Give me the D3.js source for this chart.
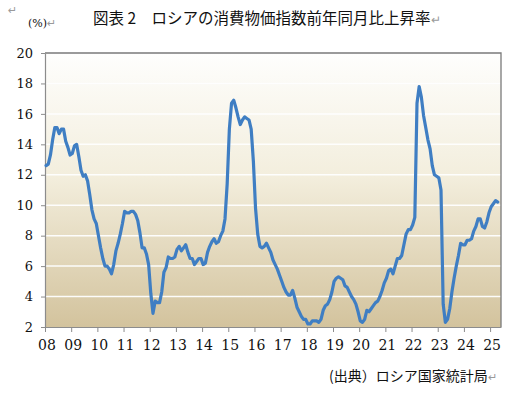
<!DOCTYPE html>
<html>
<head>
<meta charset="utf-8">
<script src="https://cdn.jsdelivr.net/npm/d3@7/dist/d3.min.js"></script>
<style>
  html, body { margin: 0; padding: 0; background: #ffffff; }
  svg { display: block; }
</style>
</head>
<body>
<svg id="chart" width="515" height="401"></svg>
<script>
// ---- data (Russia CPI, year-on-year %, monthly from Jan 2008) ----
const cpi2008 = [12.6, 12.7, 13.3, 14.3, 15.1, 15.1, 14.7, 15.0, 15.0, 14.2, 13.8, 13.3];
const cpi2009 = [13.4, 13.9, 14.0, 13.2, 12.3, 11.9, 12.0, 11.6, 10.7, 9.7, 9.1, 8.8];
const cpi2010 = [8.0, 7.2, 6.5, 6.0, 6.0, 5.8, 5.5, 6.1, 7.0, 7.5, 8.1, 8.8];
const cpi2011 = [9.6, 9.5, 9.5, 9.6, 9.6, 9.4, 9.0, 8.2, 7.2, 7.2, 6.8, 6.1];
const cpi2012 = [4.2, 2.9, 3.7, 3.6, 3.6, 4.3, 5.6, 5.9, 6.6, 6.5, 6.5, 6.6];
const cpi2013 = [7.1, 7.3, 7.0, 7.2, 7.4, 6.9, 6.5, 6.5, 6.1, 6.3, 6.5, 6.5];
const cpi2014 = [6.1, 6.2, 6.9, 7.3, 7.6, 7.8, 7.5, 7.6, 8.0, 8.3, 9.1, 11.4];
const cpi2015 = [15.0, 16.7, 16.9, 16.4, 15.8, 15.3, 15.6, 15.8, 15.7, 15.6, 15.0, 12.9];
const cpi2016 = [9.8, 8.1, 7.3, 7.2, 7.3, 7.5, 7.2, 6.9, 6.4, 6.1, 5.8, 5.4];
const cpi2017 = [5.0, 4.6, 4.3, 4.1, 4.1, 4.4, 3.9, 3.3, 3.0, 2.7, 2.5, 2.5];
const cpi2018 = [2.2, 2.2, 2.4, 2.4, 2.4, 2.3, 2.5, 3.1, 3.4, 3.5, 3.8, 4.3];
const cpi2019 = [5.0, 5.2, 5.3, 5.2, 5.1, 4.7, 4.6, 4.3, 4.0, 3.8, 3.5, 3.0];
const cpi2020 = [2.4, 2.3, 2.5, 3.1, 3.0, 3.2, 3.4, 3.6, 3.7, 4.0, 4.4, 4.9];
const cpi2021 = [5.2, 5.7, 5.8, 5.5, 6.0, 6.5, 6.5, 6.7, 7.4, 8.1, 8.4, 8.4];
const cpi2022 = [8.7, 9.2, 16.7, 17.8, 17.1, 15.9, 15.1, 14.3, 13.7, 12.6, 12.0, 11.9];
const cpi2023 = [11.8, 11.0, 3.5, 2.3, 2.5, 3.2, 4.3, 5.2, 6.0, 6.7, 7.5, 7.4];
const cpi2024 = [7.4, 7.7, 7.7, 7.8, 8.3, 8.6, 9.1, 9.1, 8.6, 8.5, 8.9, 9.5];
const cpi2025 = [9.9, 10.1, 10.3, 10.2];

const yearLabels = ["08","09","10","11","12","13","14","15","16","17","18","19","20","21","22","23","24","25"];
const yTicks = [2, 4, 6, 8, 10, 12, 14, 16, 18, 20];
const monthsOnAxis = 209;   // Jan 2008 .. May 2025 categories

const titleText = "図表 2　ロシアの消費物価指数前年同月比上昇率";
const unitText = "(%)";
const sourceText = "(出典）ロシア国家統計局";

const values = [].concat(cpi2008, cpi2009, cpi2010, cpi2011, cpi2012, cpi2013,
  cpi2014, cpi2015, cpi2016, cpi2017, cpi2018, cpi2019, cpi2020, cpi2021,
  cpi2022, cpi2023, cpi2024, cpi2025);

// ---- layout ----
const svg = d3.select("#chart");
const L = 45, R = 501, T = 53, B = 327;

const x = d3.scaleLinear().domain([0, monthsOnAxis]).range([L, R]);
const y = d3.scaleLinear().domain([2, 20]).range([B, T]);

// background gradient
const defs = svg.append("defs");
const grad = defs.append("linearGradient")
  .attr("id", "bg").attr("x1", 0).attr("y1", 0).attr("x2", 0).attr("y2", 1);
grad.append("stop").attr("offset", "0%").attr("stop-color", "#fefefd");
grad.append("stop").attr("offset", "45%").attr("stop-color", "#f3eedd");
grad.append("stop").attr("offset", "100%").attr("stop-color", "#d3c39d");

svg.append("rect")
  .attr("x", L).attr("y", T).attr("width", R - L).attr("height", B - T)
  .attr("fill", "url(#bg)");

// gridlines
svg.append("g")
  .selectAll("line")
  .data(yTicks.filter(d => d > 2 && d < 20))
  .join("line")
  .attr("x1", L).attr("x2", R)
  .attr("y1", d => y(d)).attr("y2", d => y(d))
  .attr("stroke", "#ffffff").attr("stroke-width", 1.5).attr("opacity", 0.95);

// frame top & right
svg.append("path")
  .attr("d", `M${L},${T}H${R}V${B}`)
  .attr("fill", "none").attr("stroke", "#7a7a7a").attr("stroke-width", 1.3);

// y axis
const yAxis = svg.append("g")
  .attr("transform", `translate(${L},0)`)
  .call(d3.axisLeft(y).tickValues(yTicks).tickSize(4).tickSizeOuter(0).tickFormat(d3.format("d")));
yAxis.select(".domain").attr("stroke", "#8c8c8c").attr("stroke-width", 1.2);
yAxis.selectAll(".tick line").attr("stroke", "#8c8c8c");
yAxis.selectAll(".tick text")
  .attr("x", -12)
  .attr("fill", "#111")
  .style("font-family", "'DejaVu Serif', serif")
  .style("font-size", "13px");

// x axis
const xAxis = svg.append("g")
  .attr("transform", `translate(0,${B})`)
  .call(d3.axisBottom(x)
    .tickValues(yearLabels.map((d, i) => i * 12))
    .tickSize(5).tickSizeOuter(0)
    .tickFormat((d, i) => yearLabels[i]));
xAxis.select(".domain").attr("stroke", "#8c8c8c").attr("stroke-width", 1.2);
xAxis.selectAll(".tick line").attr("stroke", "#8c8c8c");
xAxis.selectAll(".tick text")
  .attr("y", 13)
  .attr("dx", 1.5)
  .attr("fill", "#111")
  .style("font-family", "'DejaVu Serif', serif")
  .style("font-size", "14px");

// line
const line = d3.line()
  .x((d, i) => x(i + 0.5))
  .y(d => y(d));

svg.append("path")
  .datum(values)
  .attr("d", line)
  .attr("fill", "none")
  .attr("stroke", "#3f7ec3")
  .attr("stroke-width", 3.2)
  .attr("stroke-linejoin", "round")
  .attr("stroke-linecap", "round");

// texts
const mark = "#9a9a9a";
svg.append("text").attr("x", 8).attr("y", 14)
  .attr("fill", mark).style("font-family", "'DejaVu Sans', sans-serif").style("font-size", "11px")
  .text("↵");

const unit = svg.append("text").attr("x", 28).attr("y", 27)
  .style("font-family", "'DejaVu Serif', serif").style("font-size", "11px").attr("fill", "#111");
unit.append("tspan").text(unitText);
unit.append("tspan").attr("fill", mark).style("font-family", "'DejaVu Sans', sans-serif").text("↵");

const title = svg.append("text").attr("x", 93).attr("y", 24)
  .style("font-family", "'Noto Sans CJK JP', sans-serif").style("font-size", "15.5px").attr("fill", "#111");
title.append("tspan").text(titleText);
title.append("tspan").attr("fill", mark).style("font-size", "12px").text("↵");

const src = svg.append("text").attr("x", 329).attr("y", 381)
  .style("font-family", "'Noto Sans CJK JP', sans-serif").style("font-size", "14px").attr("fill", "#111");
src.append("tspan").text(sourceText);
src.append("tspan").attr("fill", mark).style("font-size", "11px").text("↵");
</script>
</body>
</html>
